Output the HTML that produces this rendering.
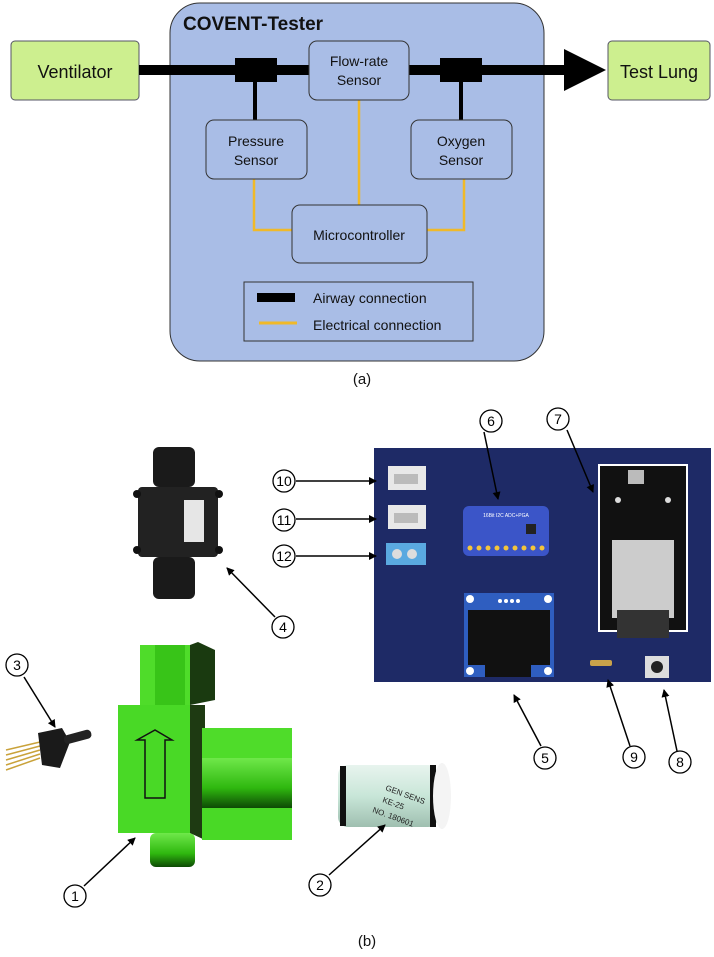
<!DOCTYPE html>
<html><head><meta charset="utf-8"><style>
html,body{margin:0;padding:0;background:#fff;width:714px;height:957px;overflow:hidden}
svg{display:block}
text{font-family:"Liberation Sans",Arial,sans-serif}
</style></head><body>
<svg width="714" height="957" viewBox="0 0 714 957" xmlns="http://www.w3.org/2000/svg">
<defs>
<marker id="ah" markerWidth="8" markerHeight="8" refX="7" refY="4" orient="auto" markerUnits="userSpaceOnUse"><path d="M0,0 L8,4 L0,8 z" fill="#000"/></marker>
<linearGradient id="cyl" x1="0" y1="0" x2="0" y2="1"><stop offset="0" stop-color="#e8f4ee"/><stop offset=".5" stop-color="#c8e6d8"/><stop offset="1" stop-color="#9fbfb0"/></linearGradient>
<linearGradient id="pipe" x1="0" y1="0" x2="0" y2="1"><stop offset="0" stop-color="#6fe84a"/><stop offset=".6" stop-color="#2fb80f"/><stop offset="1" stop-color="#0d4a05"/></linearGradient>
</defs>
<!-- (a) -->
<rect x="170" y="3" width="374" height="358" rx="30" fill="#a9bde6" stroke="#333" stroke-width="1"/>
<text x="183" y="30" font-size="19" font-weight="bold" fill="#111">COVENT-Tester</text>
<rect x="11" y="41" width="128" height="59" rx="4" fill="#cdef8f" stroke="#556" stroke-width="1"/>
<text x="75" y="78" font-size="18" text-anchor="middle" fill="#111">Ventilator</text>
<rect x="608" y="41" width="102" height="59" rx="4" fill="#cdef8f" stroke="#556" stroke-width="1"/>
<text x="659" y="78" font-size="18" text-anchor="middle" fill="#111">Test Lung</text>
<rect x="139" y="65" width="430" height="10" fill="#000"/>
<polygon points="564,49 606,70 564,91" fill="#000"/>
<rect x="235" y="58" width="42" height="24" fill="#000"/>
<rect x="440" y="58" width="42" height="24" fill="#000"/>
<line x1="255" y1="82" x2="255" y2="120" stroke="#000" stroke-width="4"/>
<line x1="461" y1="82" x2="461" y2="120" stroke="#000" stroke-width="4"/>
<g fill="none" stroke="#f0b929" stroke-width="2.5">
<line x1="359" y1="100" x2="359" y2="205"/>
<polyline points="254,179 254,230 292,230"/>
<polyline points="464,179 464,230 427,230"/>
</g>
<g fill="#a9bde6" stroke="#333" stroke-width="1">
<rect x="309" y="41" width="100" height="59" rx="8"/>
<rect x="206" y="120" width="101" height="59" rx="8"/>
<rect x="411" y="120" width="101" height="59" rx="8"/>
<rect x="292" y="205" width="135" height="58" rx="8"/>
</g>
<g font-size="14" text-anchor="middle" fill="#111">
<text x="359" y="66">Flow-rate</text><text x="359" y="85">Sensor</text>
<text x="256" y="146">Pressure</text><text x="256" y="165">Sensor</text>
<text x="461" y="146">Oxygen</text><text x="461" y="165">Sensor</text>
<text x="359" y="240">Microcontroller</text>
</g>
<rect x="244" y="282" width="229" height="59" fill="#a9bde6" stroke="#333" stroke-width="1"/>
<rect x="257" y="293" width="38" height="9" fill="#000"/>
<line x1="259" y1="323" x2="297" y2="323" stroke="#f0b929" stroke-width="3"/>
<text x="313" y="303" font-size="14" fill="#111">Airway connection</text>
<text x="313" y="330" font-size="14" fill="#111">Electrical connection</text>
<text x="362" y="384" font-size="15" text-anchor="middle" fill="#111">(a)</text>

<!-- (b) PCB -->
<rect x="374" y="448" width="337" height="234" fill="#1e2a66"/>
<!-- connectors -->
<rect x="388" y="466" width="38" height="24" fill="#e8e8e8"/><rect x="394" y="474" width="24" height="10" fill="#bbb"/>
<rect x="388" y="505" width="38" height="24" fill="#e8e8e8"/><rect x="394" y="513" width="24" height="10" fill="#bbb"/>
<rect x="386" y="543" width="40" height="22" fill="#5aa9e0"/><circle cx="397" cy="554" r="5" fill="#ddd"/><circle cx="412" cy="554" r="5" fill="#ddd"/>
<!-- ADC -->
<rect x="463" y="506" width="86" height="50" rx="6" fill="#3b55c8"/>
<g fill="#f3c53b"><circle cx="470" cy="548" r="2.5"/><circle cx="479" cy="548" r="2.5"/><circle cx="488" cy="548" r="2.5"/><circle cx="497" cy="548" r="2.5"/><circle cx="506" cy="548" r="2.5"/><circle cx="515" cy="548" r="2.5"/><circle cx="524" cy="548" r="2.5"/><circle cx="533" cy="548" r="2.5"/><circle cx="542" cy="548" r="2.5"/></g>
<rect x="526" y="524" width="10" height="10" fill="#222"/>
<text x="506" y="517" font-size="5" fill="#fff" text-anchor="middle">16Bit I2C ADC+PGA</text>
<!-- OLED -->
<rect x="464" y="593" width="90" height="84" fill="#2f5ec0"/>
<rect x="468" y="610" width="82" height="55" fill="#111"/>
<rect x="485" y="665" width="46" height="12" fill="#111"/>
<g fill="#fff"><circle cx="470" cy="599" r="4"/><circle cx="548" cy="599" r="4"/><circle cx="470" cy="671" r="4"/><circle cx="548" cy="671" r="4"/><circle cx="500" cy="601" r="2"/><circle cx="506" cy="601" r="2"/><circle cx="512" cy="601" r="2"/><circle cx="518" cy="601" r="2"/></g>
<!-- ESP32 -->
<rect x="598" y="464" width="90" height="168" fill="#fff"/>
<rect x="600" y="466" width="86" height="164" fill="#111"/>
<rect x="612" y="540" width="62" height="78" fill="#ccc"/>
<rect x="617" y="610" width="52" height="28" fill="#333"/>
<rect x="628" y="470" width="16" height="14" fill="#bbb"/>
<g fill="#ddd"><circle cx="618" cy="500" r="3"/><circle cx="668" cy="500" r="3"/></g>
<!-- R1, KEY1 -->
<rect x="590" y="660" width="22" height="6" rx="2" fill="#c9a24a"/>
<rect x="645" y="656" width="24" height="22" fill="#ddd"/><circle cx="657" cy="667" r="6" fill="#222"/>
<!-- flow sensor (4) -->
<rect x="153" y="447" width="42" height="40" rx="6" fill="#1a1a1a"/>
<rect x="138" y="487" width="80" height="70" rx="4" fill="#222"/>
<rect x="184" y="500" width="20" height="42" fill="#e6e6e6"/>
<rect x="153" y="557" width="42" height="42" rx="6" fill="#1a1a1a"/>
<circle cx="137" cy="494" r="4" fill="#111"/><circle cx="219" cy="494" r="4" fill="#111"/><circle cx="137" cy="550" r="4" fill="#111"/><circle cx="219" cy="550" r="4" fill="#111"/>
<!-- pressure sensor (3) -->
<g stroke="#c9a23a" stroke-width="1.5"><line x1="40" y1="742" x2="6" y2="750"/><line x1="40" y1="746" x2="6" y2="755"/><line x1="40" y1="750" x2="6" y2="760"/><line x1="40" y1="754" x2="6" y2="765"/><line x1="40" y1="758" x2="6" y2="770"/></g>
<polygon points="38,733 62,728 70,742 60,768 42,765" fill="#1a1a1a"/>
<rect x="64" y="736" width="28" height="9" rx="4" fill="#222" transform="rotate(-15 64 740)"/>
<!-- green part (1) -->
<rect x="150" y="833" width="45" height="34" rx="6" fill="url(#pipe)"/>
<rect x="140" y="645" width="50" height="60" fill="#4fdc2a"/>
<polygon points="190,645 198,642 215,650 215,700 190,705" fill="#1a3a10"/>
<rect x="155" y="645" width="30" height="60" fill="#38c418"/>
<rect x="118" y="705" width="72" height="128" fill="#49d926"/>
<polygon points="190,705 205,705 205,840 190,833" fill="#1e3a12"/>
<rect x="202" y="728" width="90" height="30" fill="#4fdc2a"/>
<rect x="202" y="758" width="90" height="50" fill="url(#pipe)"/>
<rect x="202" y="808" width="90" height="32" fill="#49d926"/>
<polygon points="137,740 155,730 172,740 165,740 165,798 145,798 145,740" fill="none" stroke="#111" stroke-width="1.5"/>
<!-- oxygen sensor (2) -->
<rect x="338" y="765" width="100" height="62" rx="10" fill="url(#cyl)"/>
<rect x="340" y="766" width="6" height="60" fill="#111"/>
<rect x="430" y="765" width="6" height="62" fill="#111"/>
<ellipse cx="442" cy="796" rx="9" ry="33" fill="#f4f4f4"/>
<text x="385" y="790" font-size="8" fill="#222" transform="rotate(20 385 790)">GEN SENS</text>
<text x="382" y="802" font-size="8" fill="#222" transform="rotate(20 382 802)">KE-25</text>
<text x="372" y="812" font-size="8" fill="#222" transform="rotate(20 372 812)">NO. 180601</text>
<!-- arrows -->
<g stroke="#000" stroke-width="1.5" marker-end="url(#ah)" fill="none">
<line x1="296" y1="481" x2="376" y2="481"/>
<line x1="296" y1="519" x2="376" y2="519"/>
<line x1="296" y1="556" x2="376" y2="556"/>
<line x1="484" y1="432" x2="498" y2="499"/>
<line x1="567" y1="430" x2="593" y2="492"/>
<line x1="275" y1="617" x2="227" y2="568"/>
<line x1="24" y1="677" x2="55" y2="727"/>
<line x1="541" y1="746" x2="514" y2="695"/>
<line x1="630" y1="746" x2="608" y2="680"/>
<line x1="677" y1="751" x2="664" y2="690"/>
<line x1="84" y1="886" x2="135" y2="838"/>
<line x1="329" y1="875" x2="385" y2="825"/>
</g>
<g fill="#fff" stroke="#000" stroke-width="1.3">
<circle cx="284" cy="481" r="11"/><circle cx="284" cy="520" r="11"/><circle cx="284" cy="556" r="11"/>
<circle cx="491" cy="421" r="11"/><circle cx="558" cy="419" r="11"/><circle cx="283" cy="627" r="11"/>
<circle cx="17" cy="665" r="11"/><circle cx="545" cy="758" r="11"/><circle cx="634" cy="757" r="11"/>
<circle cx="680" cy="762" r="11"/><circle cx="75" cy="896" r="11"/><circle cx="320" cy="885" r="11"/>
</g>
<g font-size="14" text-anchor="middle" fill="#000">
<text x="284" y="486">10</text><text x="284" y="525">11</text><text x="284" y="561">12</text>
<text x="491" y="426">6</text><text x="558" y="424">7</text><text x="283" y="632">4</text>
<text x="17" y="670">3</text><text x="545" y="763">5</text><text x="634" y="762">9</text>
<text x="680" y="767">8</text><text x="75" y="901">1</text><text x="320" y="890">2</text>
</g>
<text x="367" y="946" font-size="15" text-anchor="middle" fill="#111">(b)</text>
</svg>
</body></html>
